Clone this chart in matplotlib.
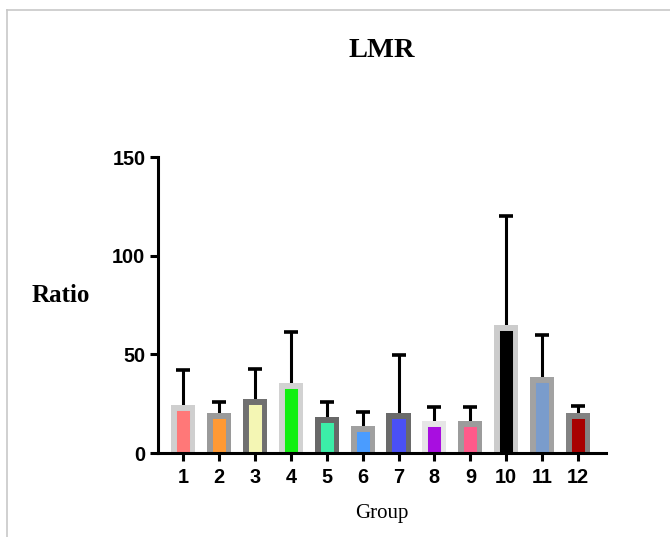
import matplotlib
matplotlib.use("Agg")
import matplotlib.pyplot as plt
from matplotlib.lines import Line2D
import numpy as np

groups = ["1", "2", "3", "4", "5", "6", "7", "8", "9", "10", "11", "12"]
means = [24.3, 20.3, 27.4, 35.5, 18.2, 13.7, 20.3, 16.2, 16.2, 64.9, 38.5, 20.3]
sds = [17.7, 5.7, 15.2, 25.8, 7.6, 7.1, 29.3, 7.1, 7.3, 55.1, 21.3, 3.5]
fill_colors = ["#ff7878", "#ff9933", "#f4f6b4", "#11f011", "#3ceea8", "#4a9cff",
               "#4a50f5", "#a80ee0", "#ff5a8a", "#000000", "#7a9ccc", "#a80000"]
edge_colors = ["#cfcfcf", "#9a9a9a", "#707070", "#d2d2d2", "#686868", "#a0a0a0",
               "#6a6a6a", "#e6e6e6", "#9c9c9c", "#cccccc", "#a2a2a2", "#828282"]
yticks = [0, 50, 100, 150]

fig = plt.figure(figsize=(6.7, 5.37), dpi=100)
ax = fig.add_axes([0.2358, 0.1564, 0.6687, 0.5512])

x = np.arange(1, len(groups) + 1)
m = np.array(means)
s = np.array(sds)
below = 6.0
ax.errorbar(x, m, yerr=[np.zeros_like(m), s], fmt="none",
            ecolor="black", elinewidth=2.2, capsize=0, zorder=1)
ax.plot(x, m + s, linestyle="none", marker="_", markersize=9.5,
        markeredgewidth=2.6, color="black", zorder=1)
bars = ax.bar(x, m + below, bottom=-below, width=0.67, color=fill_colors,
              edgecolor=edge_colors, linewidth=7.9, zorder=2)
for p in bars:
    p.set_clip_path(p.get_path(), p.get_transform())

ax.set_xlim(0.30, 12.78)
ax.set_ylim(0, 150)
ax.set_yticks(yticks)
ax.set_xticks(x)
ax.set_xticklabels(groups)
for side in ["top", "right"]:
    ax.spines[side].set_visible(False)
for side in ["left", "bottom"]:
    ax.spines[side].set_linewidth(2.2)
    ax.spines[side].set_zorder(5)
ax.tick_params(axis="both", width=2.2, length=6, direction="out")
ax.tick_params(axis="x", pad=5)
ax.tick_params(axis="y", pad=3)
for lab in ax.get_xticklabels() + ax.get_yticklabels():
    lab.set_fontfamily("Liberation Sans")
    lab.set_fontweight("bold")
    lab.set_fontsize(14.3)

fig.text(0.570, 0.894, "LMR", ha="center", va="baseline", family="Liberation Serif",
         fontweight="bold", fontsize=20.5)
fig.text(0.091, 0.4376, "Ratio", ha="center", va="baseline", family="Liberation Serif",
         fontweight="bold", fontsize=18)
fig.text(0.570, 0.0354, "Group", ha="center", va="baseline", family="Liberation Serif",
         fontsize=15)

fig.add_artist(Line2D([0.0105, 0.0105], [0.0, 0.981], transform=fig.transFigure,
                      color="#c8c8c8", linewidth=1.2))
fig.add_artist(Line2D([0.0105, 1.0], [0.981, 0.981], transform=fig.transFigure,
                      color="#c8c8c8", linewidth=1.2))

fig.savefig("out.png", dpi=100)
